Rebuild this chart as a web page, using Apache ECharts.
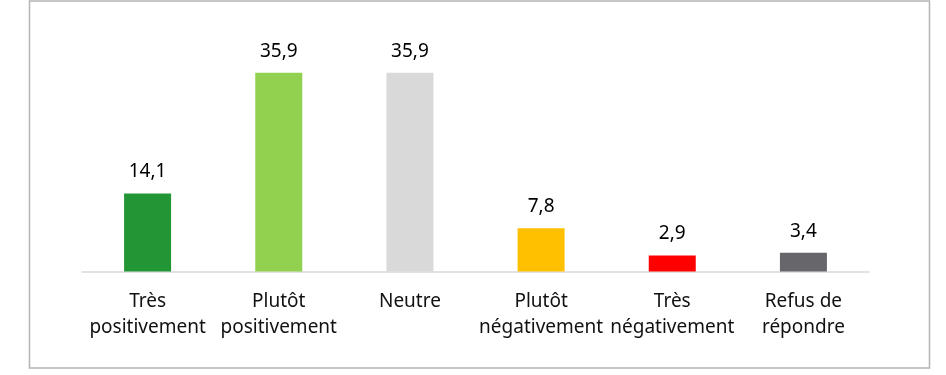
<!DOCTYPE html>
<html>
<head>
<meta charset="utf-8">
<script src="https://cdn.jsdelivr.net/npm/echarts@6/dist/echarts.min.js"></script>
<style>
html,body{margin:0;padding:0;background:#fff;}
#chart{width:946px;height:375px;}
</style>
</head>
<body>
<div id="chart"></div>
<script>
const categories = ["Très\npositivement", "Plutôt\npositivement", "Neutre", "Plutôt\nnégativement", "Très\nnégativement", "Refus de\nrépondre"];
const values = [14.1, 35.9, 35.9, 7.8, 2.9, 3.4];
const colors = ["#229535", "#92d050", "#d9d9d9", "#ffc000", "#ff0000", "#67676b"];

const FONT = "Noto Sans";
const chart = echarts.init(document.getElementById('chart'), null, {renderer: 'canvas'});
chart.setOption({
  animation: false,
  backgroundColor: '#ffffff',
  grid: {left: 82, right: 77, top: 50, bottom: 103.5, containLabel: false},
  graphic: [{
    type: 'rect',
    shape: {x: 29.5, y: 1, width: 900, height: 367},
    style: {fill: 'none', stroke: '#b4b4b4', lineWidth: 1.5},
    silent: true
  }],
  xAxis: {
    type: 'category',
    data: categories,
    axisLine: {show: true, lineStyle: {color: '#d9d9d9', width: 1.5}},
    axisTick: {show: false},
    axisLabel: {
      interval: 0,
      margin: 17,
      color: '#111',
      fontFamily: FONT,
      fontSize: 19,
      lineHeight: 26
    }
  },
  yAxis: {
    type: 'value',
    min: 0,
    max: 40,
    show: false,
    splitLine: {show: false}
  },
  series: [{
    type: 'bar',
    barWidth: 47,
    data: values.map((v, i) => ({value: v, itemStyle: {color: colors[i]}})),
    label: {
      show: true,
      position: 'top',
      distance: 12,
      color: '#000',
      fontFamily: FONT,
      fontSize: 19,
      lineHeight: 19,
      formatter: p => String(p.value).replace('.', ',')
    }
  }]
});
</script>
</body>
</html>
